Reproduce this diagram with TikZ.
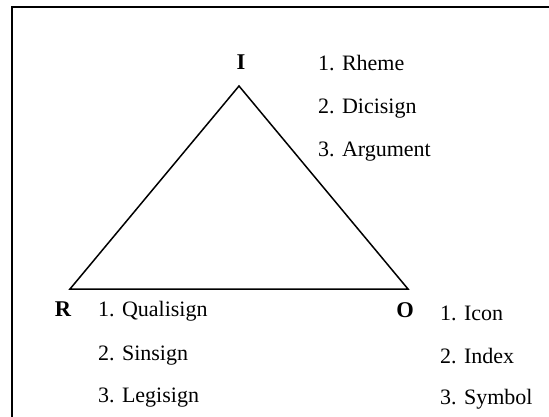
\documentclass[tikz,border=0pt]{standalone}
\usepackage{fontspec}
\setmainfont{Liberation Serif}
\begin{document}
\begin{tikzpicture}[x=1pt,y=-1pt,
  item/.style={anchor=base west,inner sep=0pt,font=\fontsize{22}{26}\selectfont},
  vlabel/.style={anchor=base,inner sep=0pt,font=\fontsize{22.5}{26}\selectfont\bfseries},
  edge/.style={line width=1.5pt,line join=miter}]
\useasboundingbox (0,0) rectangle (549,416);
\begin{scope}
\clip (0,0) rectangle (549,416);
\draw[line width=2pt] (12,7) rectangle (620,480);
\end{scope}
\coordinate (ti) at (239,86);
\coordinate (tr) at (70,289);
\coordinate (to) at (408,289);
\draw[edge] (ti) -- (to) -- (tr) -- cycle;
\node[vlabel] (I) at (241,69) {I};
\node[vlabel] (R) at (63,316) {R};
\node[vlabel] (O) at (405,317) {O};
\node[item] (i1) at (318,70.5) {1. Rheme};
\node[item] (i2) at (318,113) {2. Dicisign};
\node[item] (i3) at (318,156) {3. Argument};
\node[item] (r1) at (98,316.5) {1. Qualisign};
\node[item] (r2) at (98,360) {2. Sinsign};
\node[item] (r3) at (98,402.5) {3. Legisign};
\node[item] (o1) at (440,320) {1. Icon};
\node[item] (o2) at (440,363) {2. Index};
\node[item] (o3) at (440,404) {3. Symbol};
\end{tikzpicture}
\end{document}
